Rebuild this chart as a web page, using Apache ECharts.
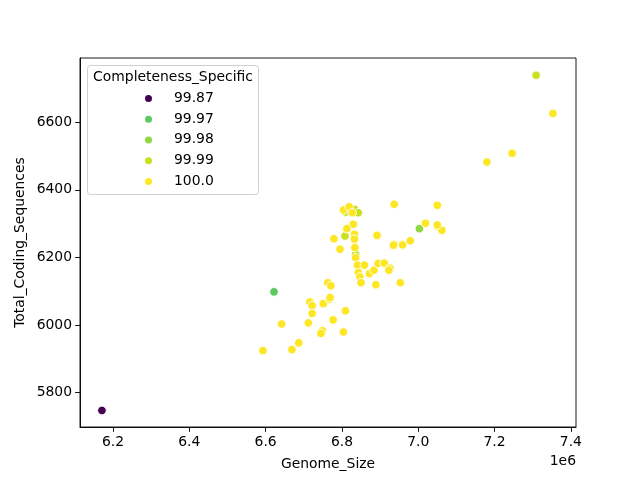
<!DOCTYPE html>
<html>
<head>
<meta charset="utf-8">
<script src="https://cdn.jsdelivr.net/npm/echarts@6/dist/echarts.min.js"></script>
<style>
html,body{margin:0;padding:0;background:#fff;}
#chart{width:640px;height:480px;}
</style>
</head>
<body>
<div id="chart"></div>
<script>
// Completeness categories (legend order)
const categories = ['99.87', '99.97', '99.98', '99.99', '100.0'];
const categoryColors = ['#440154', '#5ec962', '#8fd744', '#c8e020', '#fde725'];

// Genome_Size (bp) and Total_Coding_Sequences per category
const size_9987 = [6171000];
const cds_9987 = [5747];

const size_9997 = [6622000];
const cds_9997 = [6098];

const size_9998 = [7003000];
const cds_9998 = [6285];

const size_9999 = [7309000, 6833000, 6843000, 6810000, 6808000, 6836000];
const cds_9999 = [6739, 6342, 6332, 6334, 6263, 6209];

const size_100 = [6804000, 6819000, 6827000, 6937000, 7050000, 7019000, 7051000, 7062000, 7050000, 6830000,
  6813000, 6833000, 6833000, 6779000, 6892000, 6795000, 6834000, 6836000, 6841000, 6859000,
  6843000, 6847000, 6850000, 6872000, 6884000, 6895000, 6911000, 6926000, 6923000, 6889000,
  6953000, 6937000, 6935000, 6959000, 6979000, 6763000, 6771000, 6716000, 6722000, 6751000,
  6767000, 6769000, 6722000, 6809000, 6642000, 6712000, 6777000, 6749000, 6745000, 6804000,
  6687000, 6669000, 6593000, 7353000, 7246000, 7180000];
const cds_100 = [6340, 6350, 6332, 6357, 6354, 6301, 6291, 6280, 6296, 6298,
  6285, 6268, 6254, 6255, 6265, 6224, 6229, 6199, 6177, 6177,
  6155, 6142, 6125, 6152, 6162, 6182, 6183, 6168, 6162, 6119,
  6125, 6239, 6236, 6237, 6249, 6125, 6116, 6068, 6057, 6063,
  6076, 6081, 6034, 6042, 6003, 6006, 6015, 5983, 5975, 5979,
  5947, 5927, 5924, 6626, 6508, 6482];

// Tick values
const xTicks = [6200000, 6400000, 6600000, 6800000, 7000000, 7200000, 7400000];
const yTicks = [5800, 6000, 6200, 6400, 6600];

const groups = [
  [size_9987, cds_9987],
  [size_9997, cds_9997],
  [size_9998, cds_9998],
  [size_9999, cds_9999],
  [size_100, cds_100]
];

const FONT = 'DejaVu Sans';
const FS = 13.9;

const series = groups.map(function (g, i) {
  return {
    name: categories[i],
    type: 'scatter',
    symbol: 'circle',
    symbolSize: 8.6,
    data: g[0].map(function (x, j) { return [x, g[1][j]]; }),
    itemStyle: { color: categoryColors[i], borderColor: '#ffffff', borderWidth: 0.9, opacity: 1 },
    emphasis: { disabled: true },
    z: 2
  };
});

const chart = echarts.init(document.getElementById('chart'), null, { renderer: 'canvas' });
chart.setOption({
  animation: false,
  backgroundColor: '#ffffff',
  grid: {
    left: 80, right: 64, top: 58, bottom: 53,
    show: true, borderColor: '#000000', borderWidth: 0.9, backgroundColor: 'transparent'
  },
  xAxis: {
    type: 'value',
    min: 6113500,
    max: 7413500,
    name: 'Genome_Size',
    nameLocation: 'middle',
    nameGap: 30,
    nameMoveOverlap: false,
    nameTextStyle: { fontFamily: FONT, fontSize: FS, color: '#000' },
    axisLine: { show: true, onZero: false, lineStyle: { color: '#000', width: 0.9 } },
    axisTick: { show: true, length: 4.9, lineStyle: { color: '#000', width: 0.9 }, customValues: xTicks },
    axisLabel: {
      fontFamily: FONT, fontSize: FS, color: '#000', margin: 8,
      customValues: xTicks,
      formatter: function (v) { return (v / 1e6).toFixed(1); }
    },
    splitLine: { show: false }
  },
  yAxis: {
    type: 'value',
    min: 5698,
    max: 6790,
    name: 'Total_Coding_Sequences',
    nameLocation: 'middle',
    nameGap: 53,
    nameMoveOverlap: false,
    nameTextStyle: { fontFamily: FONT, fontSize: FS, color: '#000' },
    axisLine: { show: true, onZero: false, lineStyle: { color: '#000', width: 0.9 } },
    axisTick: { show: true, length: 4.9, lineStyle: { color: '#000', width: 0.9 }, customValues: yTicks },
    axisLabel: {
      fontFamily: FONT, fontSize: FS, color: '#000', margin: 8,
      customValues: yTicks,
      formatter: function (v) { return String(v); }
    },
    splitLine: { show: false }
  },
  legend: {
    orient: 'vertical',
    left: 138,
    top: 83,
    padding: 5,
    itemWidth: 9,
    itemHeight: 9,
    itemGap: 0,
    icon: 'circle',
    selectedMode: false,
    data: categories,
    textStyle: { fontFamily: FONT, fontSize: FS, color: '#000', lineHeight: 20.75, padding: [0, 0, 0, 16] },
    z: 10
  },
  graphic: [
    {
      type: 'rect',
      shape: { x: 87.5, y: 65.5, width: 171, height: 129, r: 3 },
      style: { fill: 'rgba(255,255,255,0.8)', stroke: '#d0d0d0', lineWidth: 1 },
      z: 5
    },
    {
      type: 'text',
      x: 173, y: 77,
      style: { text: 'Completeness_Specific', font: FS + 'px "' + FONT + '"', fill: '#000', align: 'center', verticalAlign: 'middle' },
      z: 6
    },
    {
      type: 'text',
      x: 576, y: 461,
      style: { text: '1e6', font: FS + 'px "' + FONT + '"', fill: '#000', align: 'right', verticalAlign: 'middle' },
      z: 6
    }
  ],
  series: series
});
</script>
</body>
</html>
